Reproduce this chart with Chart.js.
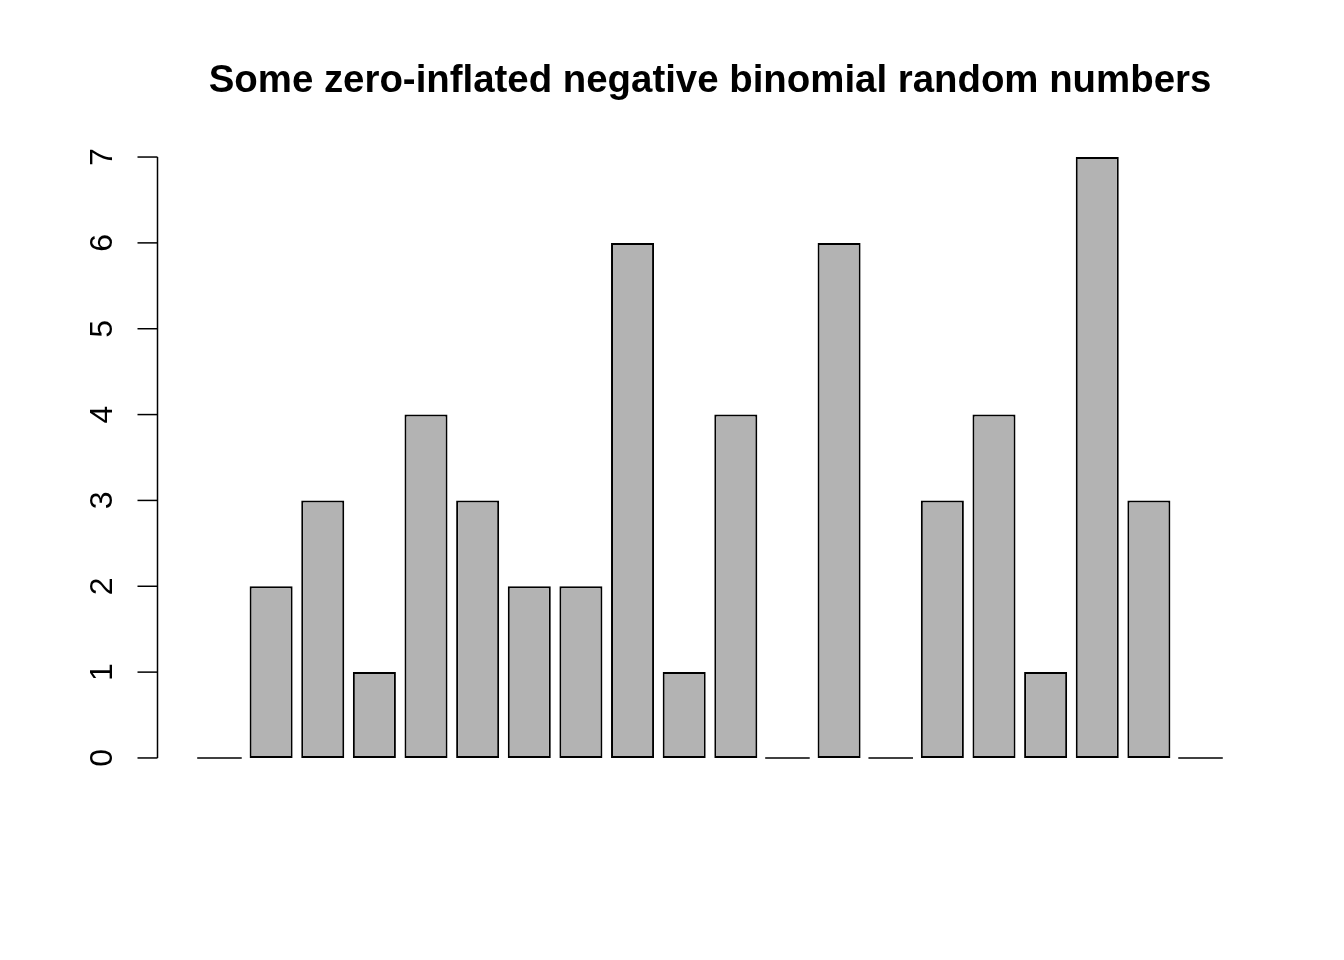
<!DOCTYPE html>
<html>
<head>
<meta charset="utf-8">
<script src="https://cdn.jsdelivr.net/npm/chart.js@4/dist/chart.umd.min.js"></script>
<style>
  html, body { margin: 0; padding: 0; background: #ffffff; }
  #wrap { width: 1344px; height: 960px; position: relative; }
</style>
</head>
<body>
<div id="wrap"><canvas id="c" width="1344" height="960"></canvas></div>
<script>
const titleText = "Some zero-inflated negative binomial random numbers";
const counts = [0, 2, 3, 1, 4, 3, 2, 2, 6, 1, 4, 0, 6, 0, 3, 4, 1, 7, 3, 0];
const yTicks = [0, 1, 2, 3, 4, 5, 6, 7];
// R barplot geometry: width 1, space 0.2
const barWidth = 1, barSpace = 0.2;
const mids = counts.map((_, i) => barSpace + barWidth / 2 + i * (barWidth + barSpace));
const xLeft = barSpace, xRight = counts.length * (barWidth + barSpace);
const xPad = 0.04 * (xRight - xLeft);
const yPad = 0.04 * 7;

const points = counts.map((v, i) => ({ x: mids[i], y: v }));

const rAxisPlugin = {
  id: 'rAxis',
  afterDatasetsDraw(chart) {
    const ctx = chart.ctx;
    const ys = chart.scales.y;
    const area = chart.chartArea;
    const meta = chart.getDatasetMeta(0);
    ctx.save();
    ctx.strokeStyle = '#000';
    ctx.lineWidth = 1.6;
    meta.data.forEach((el, i) => {
      if (counts[i] === 0) {
        const w = el.width;
        ctx.beginPath();
        ctx.moveTo(el.x - w / 2 - 0.75, ys.getPixelForValue(0));
        ctx.lineTo(el.x + w / 2 + 0.75, ys.getPixelForValue(0));
        ctx.stroke();
      }
    });
    const ax = area.left + 0.5;
    const y0 = ys.getPixelForValue(yTicks[0]);
    const y1 = ys.getPixelForValue(yTicks[yTicks.length - 1]);
    ctx.lineWidth = 1.5;
    ctx.beginPath();
    ctx.moveTo(ax, y0);
    ctx.lineTo(ax, y1);
    ctx.stroke();
    ctx.fillStyle = '#000';
    ctx.font = '32px "Liberation Sans", Arial, sans-serif';
    ctx.textAlign = 'center';
    ctx.textBaseline = 'alphabetic';
    yTicks.forEach(t => {
      const py = ys.getPixelForValue(t);
      ctx.beginPath();
      ctx.moveTo(ax, py);
      ctx.lineTo(ax - 20, py);
      ctx.stroke();
      ctx.save();
      ctx.translate(ax - 46, py);
      ctx.rotate(-Math.PI / 2);
      ctx.fillText(String(t), 0, 0);
      ctx.restore();
    });
    ctx.font = 'bold 38.4px "Liberation Sans", Arial, sans-serif';
    ctx.fillText(titleText, (area.left + area.right) / 2, 92);
    ctx.restore();
  }
};

new Chart(document.getElementById('c'), {
  type: 'bar',
  data: {
    datasets: [{
      data: points,
      backgroundColor: '#b3b3b3',
      borderColor: '#000000',
      borderWidth: 2,
      borderSkipped: false,
      barPercentage: 1,
      categoryPercentage: barWidth / (barWidth + barSpace)
    }]
  },
  options: {
    responsive: false,
    animation: false,
    devicePixelRatio: 1,
    layout: { padding: { left: 157, right: 81, top: 133, bottom: 178 } },
    plugins: { legend: { display: false }, tooltip: { enabled: false }, title: { display: false } },
    scales: {
      x: { type: 'linear', offset: false, min: xLeft - xPad, max: xRight + xPad, display: false },
      y: { min: -yPad, max: 7 + yPad, display: false }
    }
  },
  plugins: [rAxisPlugin]
});
</script>
</body>
</html>
